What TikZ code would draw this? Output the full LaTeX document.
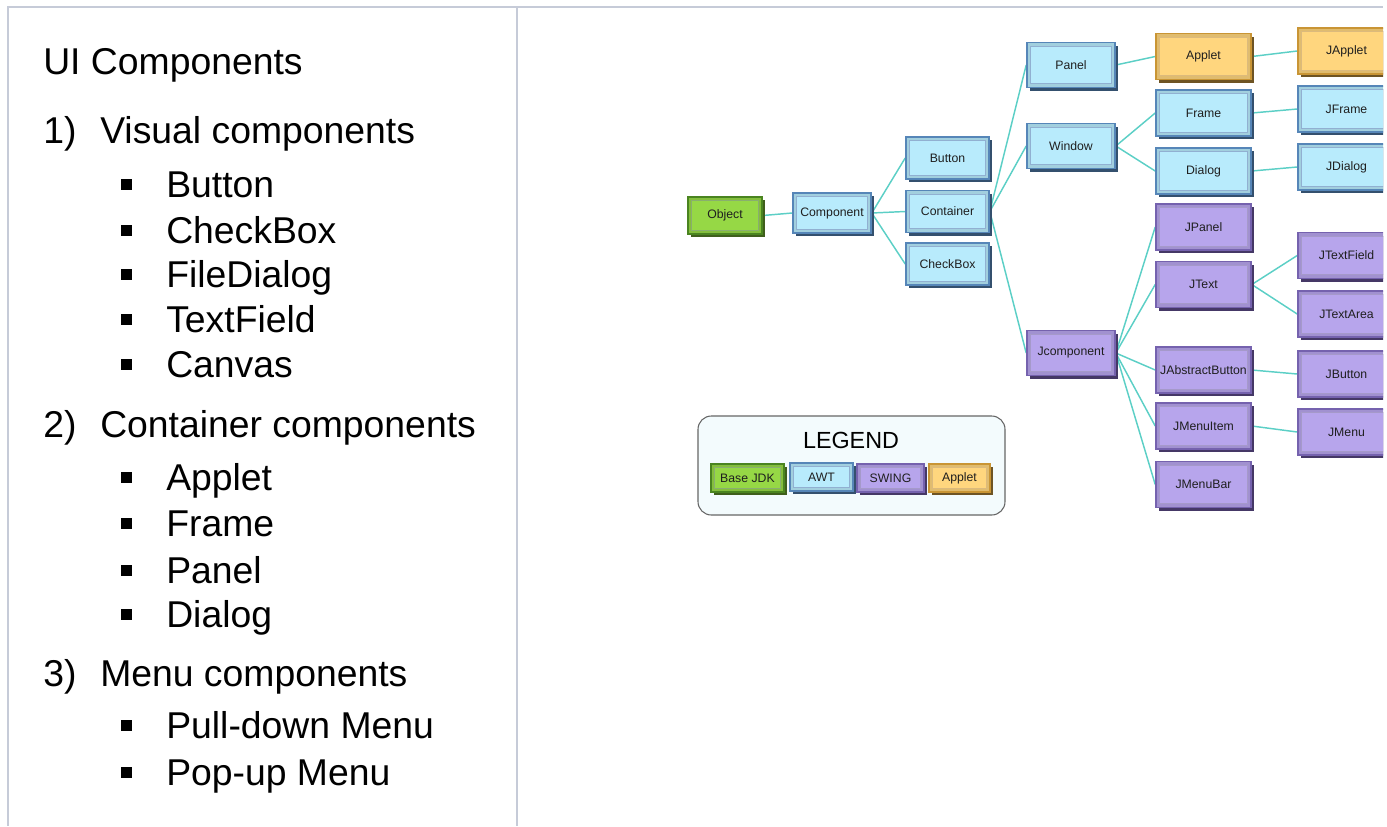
\documentclass[tikz,border=0pt]{standalone}
\usepackage{fontspec}
\setmainfont{Liberation Sans}
\usetikzlibrary{shadows,backgrounds}
\definecolor{awtF}{HTML}{B8EBFC}\definecolor{awtD}{HTML}{5686B8}\definecolor{awtS}{HTML}{34506E}
\definecolor{grnF}{HTML}{96D845}\definecolor{grnD}{HTML}{4A8420}\definecolor{grnS}{HTML}{3F5F1C}
\definecolor{purF}{HTML}{B7A5EC}\definecolor{purD}{HTML}{7562AE}\definecolor{purS}{HTML}{453866}
\definecolor{orgF}{HTML}{FFD67E}\definecolor{orgD}{HTML}{C99535}\definecolor{orgS}{HTML}{6E5424}
\definecolor{teal}{HTML}{5CCFC6}
\definecolor{frameC}{HTML}{C6CBD8}
\definecolor{legF}{HTML}{F3FBFD}
\tikzset{
  sz/.style 2 args={minimum width=#1*0.75pt, minimum height=#2*0.75pt},
  jbox/.style={rectangle, inner sep=0pt, font=\fontsize{9.2}{10}\selectfont, text=black!88, line width=1.2pt},
  kind/.style n args={3}{jbox, fill=#1!88!black, draw=#2,
    drop shadow={shadow xshift=2.6pt, shadow yshift=-2.6pt, fill=#3, opacity=1},
    path picture={\draw[#2!65!white, line width=0.6pt, fill=#1]
      ([shift={(2.8pt,-2.8pt)}]path picture bounding box.north west) rectangle
      ([shift={(-2.8pt,2.8pt)}]path picture bounding box.south east);}},
  basejdk/.style={kind={grnF}{grnD}{grnS}},
  awt/.style={kind={awtF}{awtD}{awtS}},
  swing/.style={kind={purF}{purD}{purS}},
  applet/.style={kind={orgF}{orgD}{orgS}},
  c3/.style={sz={83}{42}},
  c4/.style={sz={88}{45}},
  c5/.style={sz={95}{46}},
  c6/.style={sz={97}{46}},
  link/.style={draw=teal, line width=1.1pt},
  frameline/.style={draw=frameC, line width=1.5pt},
  head/.style={anchor=base west, inner sep=0pt, font=\fontsize{28}{32}\selectfont},
  bul/.style={rectangle, fill=black, inner sep=0pt, minimum size=8.2pt},
}
\begin{document}
\begin{tikzpicture}[x=0.75pt,y=-0.75pt]
\useasboundingbox (0,0) rectangle (1387,826);
\begin{scope}
\clip (0,0) rectangle (1383,826);
% frame
\draw[frameline] (7,7) -- (1383,7);
\draw[frameline] (7.5,7) -- (7.5,826);
\draw[frameline] (516.5,7) -- (516.5,826);

% left text
\node[head] (t0) at (43,74) {UI Components};
\node[head] (n1) at (43,143) {1)};
\node[head] (t1) at (100,143) {Visual components};
\node[bul] (b1) at (126.5,184.5) {}; \node[head] (i1) at (166,197) {Button};
\node[bul] (b2) at (126.5,230.5) {}; \node[head] (i2) at (166,243) {CheckBox};
\node[bul] (b3) at (126.5,274.5) {}; \node[head] (i3) at (166,287) {FileDialog};
\node[bul] (b4) at (126.5,319.5) {}; \node[head] (i4) at (166,332) {TextField};
\node[bul] (b5) at (126.5,364.5) {}; \node[head] (i5) at (166,377) {Canvas};
\node[head] (n2) at (43,437) {2)};
\node[head] (t2) at (100,437) {Container components};
\node[bul] (b6) at (126.5,477.5) {}; \node[head] (i6) at (166,490) {Applet};
\node[bul] (b7) at (126.5,523.5) {}; \node[head] (i7) at (166,536) {Frame};
\node[bul] (b8) at (126.5,570.5) {}; \node[head] (i8) at (166,583) {Panel};
\node[bul] (b9) at (126.5,614.5) {}; \node[head] (i9) at (166,627) {Dialog};
\node[head] (n3) at (43,686) {3)};
\node[head] (t3) at (100,686) {Menu components};
\node[bul] (b10) at (126.5,725.5) {}; \node[head] (i10) at (166,738) {Pull-down Menu};
\node[bul] (b11) at (126.5,772.5) {}; \node[head] (i11) at (166,785) {Pop-up Menu};

% diagram nodes
\node[basejdk, sz={74}{37}] (object) at (725,215.5) {Object};
\node[awt, sz={78}{40}] (component) at (832,213) {Component};
\node[awt, c3] (button) at (947.5,158) {Button};
\node[awt, c3] (container) at (947.5,211.5) {Container};
\node[awt, c3] (checkbox) at (947.5,264) {CheckBox};
\node[awt, c4] (panel) at (1071,65) {Panel};
\node[awt, c4] (window) at (1071,146) {Window};
\node[swing, c4] (jcomponent) at (1071,353) {Jcomponent};
\node[applet, c5] (appletn) at (1203.5,56.5) {Applet};
\node[awt, c5] (frame) at (1203.5,113) {Frame};
\node[awt, c5] (dialog) at (1203.5,171) {Dialog};
\node[swing, c5] (jpanel) at (1203.5,227) {JPanel};
\node[swing, c5] (jtext) at (1203.5,284.5) {JText};
\node[swing, c5] (jabstract) at (1203.5,370) {JAbstractButton};
\node[swing, c5] (jmenuitem) at (1203.5,426) {JMenuItem};
\node[swing, c5] (jmenubar) at (1203.5,484.5) {JMenuBar};
\node[applet, c6] (japplet) at (1346.5,51) {JApplet};
\node[awt, c6] (jframe) at (1346.5,109) {JFrame};
\node[awt, c6] (jdialog) at (1346.5,167) {JDialog};
\node[swing, c6] (jtextfield) at (1346.5,255.5) {JTextField};
\node[swing, c6] (jtextarea) at (1346.5,314) {JTextArea};
\node[swing, c6] (jbutton) at (1346.5,374) {JButton};
\node[swing, c6] (jmenu) at (1346.5,432) {JMenu};

% legend
\node[draw=black!60, fill=legF, rounded corners=10pt, line width=0.8pt, sz={307}{99}] (legend) at (851.5,465.5) {};
\node[font=\fontsize{17.5}{20}\selectfont, inner sep=0pt] (legtitle) at (851,440) {LEGEND};
\node[basejdk, sz={73}{28}] (lgbase) at (747.5,478) {Base JDK};
\node[awt, sz={63}{28}] (lgawt) at (821.5,477) {AWT};
\node[swing, sz={67}{28}] (lgswing) at (890.5,478) {SWING};
\node[applet, sz={61}{28}] (lgapplet) at (959.5,478) {Applet};

% connectors
\begin{scope}[on background layer]
\draw[link] (object.east) -- (component.west);
\draw[link] (component.east) -- (button.west);
\draw[link] (component.east) -- (container.west);
\draw[link] (component.east) -- (checkbox.west);
\draw[link] (container.east) -- (panel.west);
\draw[link] (container.east) -- (window.west);
\draw[link] (container.east) -- (jcomponent.west);
\draw[link] (panel.east) -- (appletn.west);
\draw[link] (window.east) -- (frame.west);
\draw[link] (window.east) -- (dialog.west);
\draw[link] (jcomponent.east) -- (jpanel.west);
\draw[link] (jcomponent.east) -- (jtext.west);
\draw[link] (jcomponent.east) -- (jabstract.west);
\draw[link] (jcomponent.east) -- (jmenuitem.west);
\draw[link] (jcomponent.east) -- (jmenubar.west);
\draw[link] (appletn.east) -- (japplet.west);
\draw[link] (frame.east) -- (jframe.west);
\draw[link] (dialog.east) -- (jdialog.west);
\draw[link] (jtext.east) -- (jtextfield.west);
\draw[link] (jtext.east) -- (jtextarea.west);
\draw[link] (jabstract.east) -- (jbutton.west);
\draw[link] (jmenuitem.east) -- (jmenu.west);
\end{scope}
\end{scope}
\end{tikzpicture}
\end{document}
